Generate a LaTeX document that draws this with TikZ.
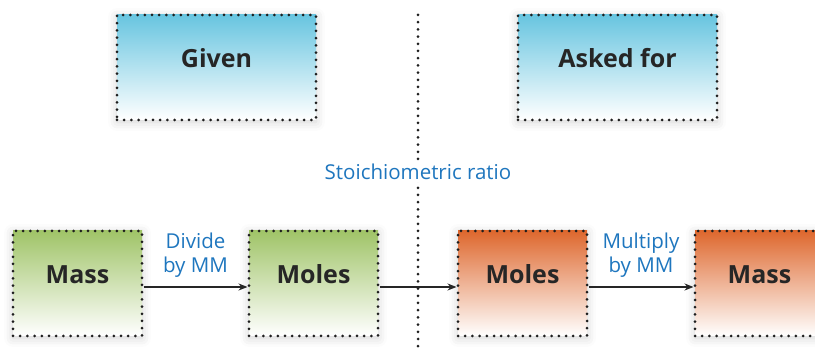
\documentclass[tikz,border=0pt]{standalone}
\usepackage{fontspec}
\setmainfont{Open Sans}
\usepackage{tikz}
\usetikzlibrary{arrows.meta,positioning,shadows.blur}
\usepackage{xcolor}
\definecolor{givencol}{RGB}{104,197,224}
\definecolor{masscol}{RGB}{160,196,104}
\definecolor{askcol}{RGB}{222,104,46}
\definecolor{notecol}{RGB}{30,118,190}
\definecolor{dotcol}{RGB}{30,30,30}
\tikzset{
  % dotted border
  dotline/.style={draw=dotcol, line width=3pt, line cap=round, dash pattern=on 0pt off 7.2pt},
  % gradient box
  gbox/.style={rectangle, dotline, top color=#1, bottom color=white, minimum width=129pt, minimum height=105pt,
               font=\fontsize{25}{30}\selectfont\bfseries, text=black!85, inner sep=0pt,
               text height=18pt, text depth=18pt,
               blur shadow={shadow xshift=0pt, shadow yshift=-2pt, shadow blur radius=9pt, shadow opacity=18}},
  % wide box
  wbox/.style={gbox=#1, minimum width=199pt},
  % note text
  notelabel/.style={font=\fontsize{20.5}{24}\selectfont, text=notecol, align=center},
  % step arrow
  steparrow/.style={-{Stealth[length=9pt,width=7pt]}, line width=1.6pt, black!85},
}
\begin{document}
\begin{tikzpicture}[x=1pt, y=-1pt]
  \useasboundingbox (0,0) rectangle (815,352);
  % top row
  \node[wbox=givencol] (given) at (216.5,67.5) {Given};
  \node[wbox=givencol] (asked) at (617.5,67.5) {Asked for};
  % divider
  \coordinate (divtop) at (418,15);
  \coordinate (divbot) at (418,352);
  \draw[dotline] (divtop) -- (divbot);
  \node[notelabel, fill=white, inner sep=2pt] (ratio) at (418,172) {Stoichiometric ratio};
  % bottom row
  \node[gbox=masscol] (mass1) at (77.5,283.5) {Mass};
  \node[gbox=masscol] (moles1) at (313.5,283.5) {Moles};
  \node[gbox=askcol] (moles2) at (522.5,283.5) {Moles};
  \node[gbox=askcol] (mass2) at (759.5,283.5) {Mass};
  \draw[steparrow] ([yshift=-3.5pt]mass1.east) -- ([yshift=-3.5pt]moles1.west)
    node[midway, above=5pt, notelabel]{Divide\\by MM};
  \draw[steparrow] ([yshift=-3.5pt]moles1.east) -- ([yshift=-3.5pt]moles2.west);
  \draw[steparrow] ([yshift=-3.5pt]moles2.east) -- ([yshift=-3.5pt]mass2.west)
    node[midway, above=5pt, notelabel]{Multiply\\by MM};
\end{tikzpicture}
\end{document}
